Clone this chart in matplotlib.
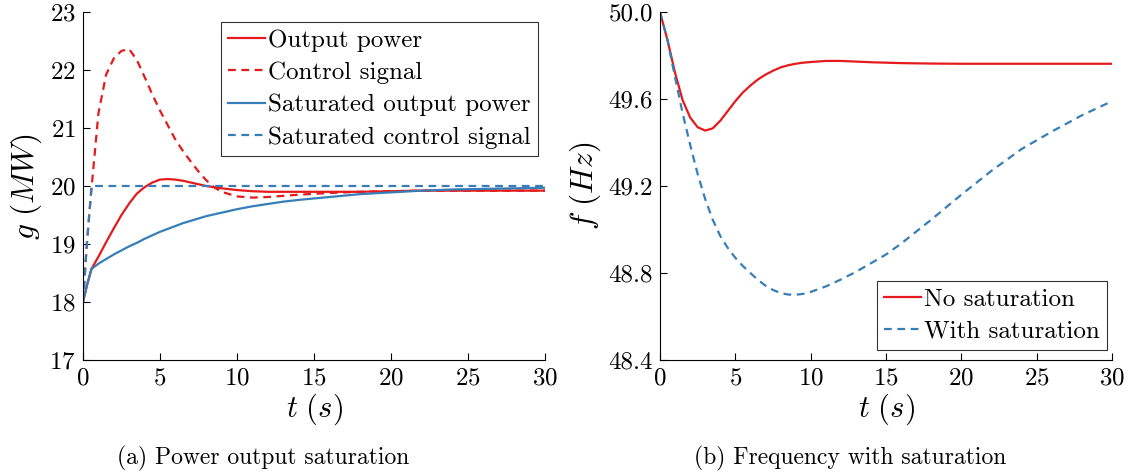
import matplotlib
matplotlib.use('Agg')
import matplotlib.pyplot as plt

plt.rcParams['font.family'] = ['cmr10', 'DejaVu Serif']
plt.rcParams['mathtext.fontset'] = 'cm'
plt.rcParams['axes.formatter.use_mathtext'] = True

red = '#e41a1c'
blue = '#377eb8'

# (a) power output
t_a = [0, 0.25, 0.55, 1, 1.5, 2, 2.5, 3, 3.5, 4, 4.5, 5, 5.5, 6, 6.5, 7, 7.5, 8, 8.5, 9,
       10, 11, 12, 13, 14, 16, 18, 20, 22, 24, 26, 28, 30]
out_power = [18, 18.28, 18.57, 18.78, 19.03, 19.27, 19.5, 19.7, 19.87, 19.98, 20.06, 20.11,
             20.12, 20.11, 20.09, 20.06, 20.03, 20.0, 19.98, 19.96, 19.93, 19.91, 19.9, 19.9,
             19.9, 19.9, 19.9, 19.91, 19.92, 19.92, 19.92, 19.92, 19.92]
ctrl_signal = [18, 19.0, 19.95, 21.25, 21.92, 22.2, 22.33, 22.36, 22.17, 21.88, 21.58, 21.3,
               21.05, 20.8, 20.6, 20.42, 20.25, 20.1, 19.98, 19.9, 19.82, 19.8, 19.81, 19.83,
               19.85, 19.88, 19.9, 19.91, 19.92, 19.92, 19.92, 19.92, 19.92]
sat_power = [18, 18.28, 18.57, 18.66, 18.74, 18.82, 18.89, 18.96, 19.02, 19.09, 19.15, 19.21,
             19.26, 19.31, 19.36, 19.4, 19.44, 19.48, 19.51, 19.54, 19.6, 19.65, 19.69, 19.73,
             19.76, 19.81, 19.86, 19.89, 19.92, 19.94, 19.95, 19.96, 19.97]
sat_ctrl = [18, 19.0, 20.0, 20.0, 20.0, 20.0, 20.0, 20.0, 20.0, 20.0, 20.0, 20.0, 20.0, 20.0,
            20.0, 20.0, 20.0, 20.0, 20.0, 20.0, 20.0, 20.0, 20.0, 20.0, 20.0, 20.0, 20.0, 20.0,
            20.0, 20.0, 20.0, 20.0, 20.0]

# (b) frequency
t_b = [0, 0.5, 1, 1.5, 2, 2.5, 3, 3.5, 4, 4.5, 5, 5.5, 6, 6.5, 7, 7.5, 8, 8.5, 9, 9.5,
       10, 11, 12, 13, 14, 15, 16, 18, 20, 22, 24, 26, 28, 30]
f_nosat = [50.0, 49.87, 49.72, 49.595, 49.515, 49.47, 49.455, 49.465, 49.5, 49.545, 49.59, 49.63,
           49.662, 49.69, 49.712, 49.73, 49.745, 49.755, 49.762, 49.767, 49.77, 49.775, 49.775,
           49.772, 49.769, 49.767, 49.765, 49.763, 49.762, 49.762, 49.762, 49.762, 49.762, 49.762]
f_sat = [50.0, 49.87, 49.7, 49.535, 49.39, 49.255, 49.14, 49.045, 48.97, 48.915, 48.87, 48.832,
         48.8, 48.768, 48.742, 48.722, 48.708, 48.701, 48.7, 48.704, 48.713, 48.738, 48.77, 48.805,
         48.845, 48.885, 48.935, 49.045, 49.16, 49.27, 49.37, 49.45, 49.525, 49.59]

fig = plt.figure(figsize=(11.31, 4.75), dpi=100)
ax1 = fig.add_axes([83 / 1131, 1 - 360 / 475, 462 / 1131, 348 / 475])
ax2 = fig.add_axes([660 / 1131, 1 - 360 / 475, 452 / 1131, 348 / 475])

dash = (0, (3.5, 2.5))
ax1.plot(t_a, out_power, color=red, lw=1.6, label='Output power')
ax1.plot(t_a, ctrl_signal, color=red, lw=1.6, ls=dash, label='Control signal')
ax1.plot(t_a, sat_power, color=blue, lw=1.6, label='Saturated output power')
ax1.plot(t_a, sat_ctrl, color=blue, lw=1.6, ls=dash, label='Saturated control signal')
ax1.set_ylim(17, 23)
ax1.set_yticks([17, 18, 19, 20, 21, 22, 23])
ax1.set_ylabel(r'$g\ (MW)$', fontsize=22.5, labelpad=4)

ax2.plot(t_b, f_nosat, color=red, lw=1.6, label='No saturation')
ax2.plot(t_b, f_sat, color=blue, lw=1.6, ls=dash, label='With saturation')
ax2.set_ylim(48.4, 50.0)
ax2.set_yticks([48.4, 48.8, 49.2, 49.6, 50.0])
ax2.set_yticklabels(['48.4', '48.8', '49.2', '49.6', '50.0'])
ax2.set_ylabel(r'$f\ (Hz)$', fontsize=22.5, labelpad=4)

for ax in (ax1, ax2):
    ax.set_xlim(0, 30)
    ax.set_xticks([0, 5, 10, 15, 20, 25, 30])
    ax.spines['top'].set_visible(False)
    ax.spines['right'].set_visible(False)
    ax.tick_params(direction='in', length=5, labelsize=18, pad=5)
    ax.set_xlabel(r'$t\ (s)$', fontsize=22, labelpad=2)

leg_kw = dict(fontsize=18, frameon=True, fancybox=False, edgecolor='black',
              handlelength=1.45, handletextpad=0.15, borderpad=0.28,
              labelspacing=0.4, borderaxespad=0)
leg1 = ax1.legend(loc='upper right', bbox_to_anchor=((538 - 83) / 462, (360 - 22) / 348), **leg_kw)
leg1.get_frame().set_linewidth(0.8)
leg2 = ax2.legend(loc='lower right', bbox_to_anchor=((1107 - 660) / 452, (360 - 350) / 348), **leg_kw)
leg2.get_frame().set_linewidth(0.8)

fig.text(263 / 1131, 1 - 458 / 475, '(a) Power output saturation', ha='center', va='center', fontsize=17)
fig.text(850 / 1131, 1 - 458 / 475, '(b) Frequency with saturation', ha='center', va='center', fontsize=17)

fig.savefig('out.png', dpi=100)
